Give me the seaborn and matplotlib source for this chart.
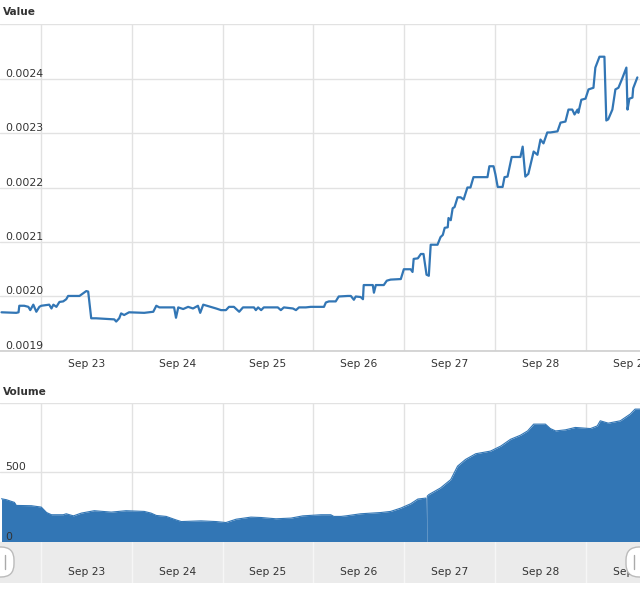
import numpy as np
import pandas as pd
import matplotlib
matplotlib.use("Agg")
import matplotlib.pyplot as plt
import seaborn as sns
from matplotlib.patches import FancyBboxPatch
from matplotlib.transforms import IdentityTransform

BASE = pd.Timestamp("2017-09-22 00:00")

# ---- price series (hours since Sep 22 00:00, value in 1e-6 units) ----
price_hours = [
    1.6, 5.5, 6.1, 6.3, 7.6, 8.7, 9.2, 10.0, 10.8, 11.6, 12.1, 14.2, 14.8, 15.3, 16.1, 16.9,
    17.9, 18.7, 19.2, 22.2, 23.2, 24.0, 24.5, 25.3, 26.6, 31.4, 31.9, 32.7, 33.2, 34.0, 35.3,
    39.3, 41.7, 42.5, 43.3, 47.2, 47.7, 48.3, 49.6, 50.9, 52.2, 53.5, 54.1, 54.9, 58.3,
    59.6, 60.9, 61.7, 63.0, 64.4, 65.4, 68.3, 68.8, 69.4, 70.2, 70.9, 74.6, 75.4, 76.2, 78.6,
    79.4, 80.2, 82.0, 83.3, 86.8, 87.3, 88.1, 89.9, 90.7, 93.1, 93.9, 94.7, 95.2, 96.5, 97.1,
    97.3, 99.7, 100.0, 100.5, 102.6, 103.4, 104.4, 107.1, 107.9, 109.7, 110.2, 110.5, 111.6,
    112.4, 113.1, 113.9, 114.5,
    115.0, 116.8, 117.6, 118.2, 118.7, 119.5, 119.7, 120.3, 120.8, 121.3, 122.1, 122.9, 123.7,
    124.7, 125.5, 126.3, 130.0, 130.5, 131.6, 132.1, 132.7, 134.0, 134.5, 135.3, 136.4, 138.7,
    139.3, 140.0, 140.8, 142.2, 143.2, 144.0, 144.8, 145.8, 146.6, 148.5, 149.3, 150.6, 151.4,
    152.4, 153.0, 153.8, 154.0, 154.8, 155.9, 156.7, 158.0, 158.5, 159.6, 160.9, 161.4, 161.9,
    163.0, 163.8, 164.6, 165.6, 166.7, 167.0, 167.5, 168.3, 168.5, 169.6,
]
price_micro = [
    1971, 1970, 1971, 1983, 1983, 1981, 1975, 1985, 1972, 1981, 1983, 1985, 1978, 1985, 1981, 1990,
    1991, 1995, 2001, 2001, 2006, 2010, 2009, 1960, 1960, 1958, 1954, 1960, 1969, 1966, 1971,
    1970, 1972, 1983, 1980, 1980, 1961, 1980, 1977, 1981, 1978, 1983, 1970, 1985, 1978,
    1975, 1975, 1981, 1981, 1972, 1980, 1980, 1975, 1980, 1975, 1980, 1980, 1975, 1980, 1978,
    1975, 1980, 1980, 1981, 1981, 1989, 1991, 1991, 2000, 2001, 2001, 1994, 2000, 1999, 1995,
    2021, 2021, 2007, 2021, 2021, 2029, 2031, 2032, 2050, 2050, 2045, 2069, 2070,
    2078, 2078, 2040, 2038,
    2095, 2095, 2109, 2113, 2126, 2127, 2144, 2140, 2162, 2164, 2182, 2182, 2178,
    2200, 2200, 2219, 2219, 2239, 2239, 2224, 2201, 2201, 2219, 2220, 2256, 2256,
    2275, 2220, 2225, 2266, 2260, 2288, 2281, 2301, 2301, 2303, 2319, 2321, 2343,
    2343, 2334, 2343, 2337, 2361, 2363, 2380, 2383, 2420, 2440, 2440, 2323, 2325,
    2343, 2380, 2383, 2400, 2420, 2343, 2363, 2365, 2382, 2402,
]

# ---- volume series ----
vol_hours = [
    1.6, 2.9, 5.0, 5.5, 9.5, 12.1, 13.5, 14.8, 17.9, 18.7, 20.6, 22.7, 26.1, 30.6, 34.5, 39.3,
    41.1, 42.5, 45.1, 47.7, 49.1, 54.3, 58.3, 60.9, 63.6, 67.5, 70.2, 74.1, 78.1, 81.2, 86.0,
    88.6, 89.4, 91.3, 92.6, 96.5, 101.8, 104.4, 107.1, 109.7, 111.6, 113.7, 113.8, 114.0, 114.1,
    114.5, 117.6, 120.3, 122.1, 124.2, 126.9, 130.8, 133.5, 136.1, 138.7, 140.6, 142.2, 145.3,
    146.6, 148.0, 150.6, 153.2, 157.2, 159.0, 159.8, 161.9, 165.1, 167.7, 169.0, 170.4,
]
vol_values = [
    311, 304, 285, 263, 261, 251, 212, 196, 196, 203, 188, 208, 225, 215, 225, 220,
    208, 191, 184, 159, 147, 152, 147, 140, 164, 179, 176, 167, 172, 188, 196,
    196, 184, 184, 188, 203, 212, 220, 244, 275, 309, 316, 0, 0, 330,
    341, 389, 449, 546, 594, 635, 654, 690, 739, 768, 799, 848, 848,
    816, 799, 807, 824, 816, 835, 872, 855, 872, 920, 956, 956,
]

day_labels = ["Sep 23", "Sep 24", "Sep 25", "Sep 26", "Sep 27", "Sep 28", "Sep 29"]
value_ticks = [0.0019, 0.0020, 0.0021, 0.0022, 0.0023, 0.0024, 0.0025]
value_tick_labels = ["0.0019", "0.0020", "0.0021", "0.0022", "0.0023", "0.0024", ""]
volume_ticks = [0, 500, 1000]
volume_tick_labels = ["0", "500", ""]

BLUE = "#3276b5"
GRID = "#e2e2e2"
TEXT = "#333333"

sns.set_theme(style="white")
plt.rcParams["font.family"] = ["DejaVu Sans"]

fig = plt.figure(figsize=(6.4, 5.9), dpi=100)
ax1 = fig.add_axes([0, 0.4051, 1, 0.5542])
ax2 = fig.add_axes([0, 0.08136, 1, 0.2356])
axn = fig.add_axes([0, 0.01186, 1, 0.0695])

df_price = pd.DataFrame({
    "time": BASE + pd.to_timedelta(price_hours, unit="h"),
    "value": np.array(price_micro) * 1e-6,
})
df_vol = pd.DataFrame({
    "time": BASE + pd.to_timedelta(vol_hours, unit="h"),
    "volume": vol_values,
})

midnights = [BASE + pd.Timedelta(hours=24 * (k + 1)) for k in range(len(day_labels))]
noons = [BASE + pd.Timedelta(hours=12 + 24 * k) for k in range(7)]
xlim = (BASE + pd.Timedelta(hours=1.2), BASE + pd.Timedelta(hours=170.3))

sns.lineplot(data=df_price, x="time", y="value", ax=ax1, color=BLUE, lw=1.6, zorder=3)
ax2.fill_between(df_vol["time"], df_vol["volume"], color=BLUE, lw=0, zorder=2)
sns.lineplot(data=df_vol, x="time", y="volume", ax=ax2, color=BLUE, lw=0.8, zorder=2)

for ax in (ax1, ax2):
    ax.set_xlim(xlim)
    ax.set_xlabel("")
    ax.set_ylabel("")
    ax.grid(False)
    for n in noons:
        ax.axvline(n, color=GRID, lw=1, zorder=0.1)
    for s in ax.spines.values():
        s.set_visible(False)
    ax.tick_params(axis="both", which="both", length=0)
    ax.tick_params(axis="y", pad=-4, labelsize=7.8, labelcolor=TEXT)

ax1.set_ylim(0.0019, 0.0025)
ax1.set_yticks(value_ticks, value_tick_labels)
for t in value_ticks:
    ax1.axhline(t, color=GRID, lw=1, zorder=0.1)
ax1.set_xticks(midnights, day_labels)
ax1.tick_params(axis="x", pad=5.5, labelsize=7.7, labelcolor=TEXT)
ax1.spines["bottom"].set_visible(True)
ax1.spines["bottom"].set_color("#d0d0d0")

ax2.set_ylim(0, 1000)
ax2.set_yticks(volume_ticks, volume_tick_labels)
for t in volume_ticks:
    ax2.axhline(t, color=GRID, lw=1, zorder=0.1)
ax2.set_xticks(midnights, [""] * len(midnights))

for ax in (ax1, ax2):
    ax.set_axisbelow(False)
    for lab in ax.get_yticklabels():
        lab.set_horizontalalignment("left")
        lab.set_verticalalignment("bottom")

# navigator strip
axn.set_facecolor("#ebebeb")
axn.set_xlim(xlim)
axn.set_ylim(0, 1)
for s in axn.spines.values():
    s.set_visible(False)
axn.set_xticks([])
axn.set_yticks([])
for n in noons:
    axn.axvline(n, color="#f6f6f6", lw=1)
for m, lab in zip(midnights, day_labels):
    axn.text(m, 0.27, lab, ha="center", va="center", fontsize=7.7, color=TEXT)

for cx in (0, 640):
    fig.add_artist(FancyBboxPatch((cx - 14, 13), 28, 30,
                                  boxstyle="round,pad=0,rounding_size=13",
                                  transform=IdentityTransform(),
                                  facecolor="white", edgecolor="#bbbbbb", lw=1))
fig.add_artist(plt.Line2D([5, 5], [21, 35], transform=IdentityTransform(), color="#aaaaaa", lw=1))
fig.add_artist(plt.Line2D([634, 634], [21, 35], transform=IdentityTransform(), color="#aaaaaa", lw=1))

fig.text(3 / 640, 1 - 12 / 590, "Value", fontsize=7.6, fontweight="bold", color=TEXT, va="center")
fig.text(3 / 640, 1 - 392 / 590, "Volume", fontsize=7.6, fontweight="bold", color=TEXT, va="center")

fig.savefig("out.png", dpi=100)
